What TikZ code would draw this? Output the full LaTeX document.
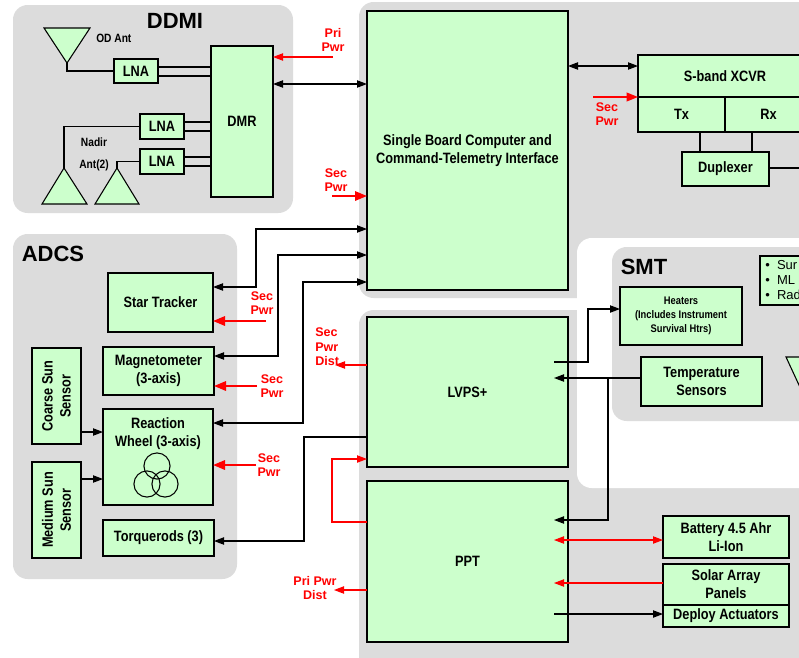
\documentclass[tikz,border=0pt]{standalone}
\usepackage{fontspec}
\setmainfont{Liberation Sans}
\newfontfamily\cond{Liberation Sans}[FakeStretch=0.85]
\usetikzlibrary{arrows.meta}
\definecolor{boxgreen}{RGB}{204,255,204}
\definecolor{panelgray}{RGB}{220,220,220}
\definecolor{pwrred}{RGB}{255,0,0}
\newcommand\bx[7][]{\node[box,minimum width={(#5-#3)*0.75pt},minimum height={(#6-#4)*0.75pt},#1] (#2) at ({(#3+#5)/2},{(#4+#6)/2}) {#7};}
\begin{document}
\begin{tikzpicture}[x=0.75pt,y=-0.75pt,
 box/.style={draw=black, fill=boxgreen, line width=1pt, inner sep=0pt, outer sep=0pt, align=center, font=\cond\bfseries\fontsize{11.25}{13.5}\selectfont},
 panel/.style={fill=panelgray, rounded corners=11pt},
 title/.style={font=\bfseries\fontsize{16.5}{20}\selectfont, inner sep=0pt},
 lbl/.style={font=\cond\bfseries\fontsize{9}{11}\selectfont, inner sep=0pt, align=center},
 txt/.style={font=\cond\bfseries\fontsize{11.25}{13.5}\selectfont, inner sep=0pt, align=center},
 rlbl/.style={text=pwrred, font=\bfseries\fontsize{9.4}{10.8}\selectfont, inner sep=0pt, align=center},
 conn/.style={line width=0.8pt},
 arr/.style={conn, -{Triangle[length=7.5pt,width=5.5pt]}},
 darr/.style={conn, {Triangle[length=7.5pt,width=5.5pt]}-{Triangle[length=7.5pt,width=5.5pt]}},
 rarr/.style={arr, pwrred},
 rdarr/.style={darr, pwrred},
 pwr/.style={pwrred, line width=1.6pt, -{Triangle[length=9pt,width=7pt]}},
 ant/.style={draw=black, fill=boxgreen, line width=0.8pt},
]
\useasboundingbox (0,0) rectangle (799,657);
\clip (0,0) rectangle (799,657);
\fill[white] (0,0) rectangle (799,657);
% panels
\fill[panel] (13,5) rectangle (293,213);
\fill[panel] (13,234) rectangle (237,579);
\fill[panel] (359,2) rectangle (840,298);
\fill[panel] (359,310) rectangle (840,700);
\fill[white, rounded corners=11pt] (577,238) rectangle (840,488);
\fill[panel] (612,247) rectangle (840,421);
% titles
\node[title] (tddmi) at (175,21) {DDMI};
\node[title] (tadcs) at (53,254) {ADCS};
\node[title] (tsmt) at (644,267) {SMT};
% DDMI
\bx{lna1}{114}{59}{158}{83}{LNA}
\bx{lna2}{140}{114}{184}{139}{LNA}
\bx{lna3}{140}{149}{184}{174}{LNA}
\bx{dmr}{211}{46}{273}{197}{DMR}
\foreach \n/\ya/\yb in {lna1/67/76, lna2/122/131, lna3/157/166}{
  \draw[conn] (\n.east |- 0,\ya) -- (dmr.west |- 0,\ya);
  \draw[conn] (\n.east |- 0,\yb) -- (dmr.west |- 0,\yb);
}
\filldraw[ant] (44,28) -- (90,28) -- (67,63) -- cycle;
\coordinate (odapex) at (67,63);
\filldraw[ant] (42,204) -- (87,204) -- (64,168) -- cycle;
\coordinate (n1apex) at (64,168);
\filldraw[ant] (95,204) -- (139,204) -- (117,168) -- cycle;
\coordinate (n2apex) at (117,168);
\draw[conn] (odapex) |- (lna1.west);
\draw[conn] (n1apex) |- (lna2.west);
\draw[conn] (n2apex) |- (lna3.west);
\node[lbl, anchor=west] (lod) at (96,38) {OD Ant};
\node[lbl] (lnadir) at (94,142) {Nadir};
\node[lbl] (lant) at (94,165) {Ant(2)};
\node[rlbl] (lpri) at (333,40) {Pri\\Pwr};
\coordinate (pri) at (333,57);
\draw[rarr] (pri) -- (dmr.east |- 0,57);
% SBC
\bx[font=\cond\bfseries\fontsize{11.25}{13}\selectfont]{sbc}{367}{11}{568}{290}{Single Board Computer and\\Command-Telemetry Interface}
\draw[darr] (dmr.east |- 0,84) -- (sbc.west |- 0,84);
\node[rlbl] (lsbcpwr) at (336,180) {Sec\\Pwr};
\coordinate (sbcpwr) at (332,196);
\draw[pwr] (sbcpwr) -- (sbc.west |- 0,196);
% XCVR
\bx{xcvr}{638}{55}{812}{97}{S-band XCVR}
\bx{tx}{638}{97}{725}{132}{Tx}
\bx{rx}{725}{97}{812}{132}{Rx}
\bx{dup}{682}{152}{769}{186}{Duplexer}
\draw[conn] (tx.south -| 700,0) -- (dup.north -| 700,0);
\draw[conn] (rx.south -| 752,0) -- (dup.north -| 752,0);
\coordinate (dupout) at (810,168);
\draw[conn] (dup.east |- 0,168) -- (dupout);
\draw[darr] (sbc.east |- 0,66) -- (xcvr.west |- 0,66);
\coordinate (xpwr) at (593,97);
\draw[pwrred, line width=1.2pt, -{Triangle[length=8.5pt,width=6.5pt]}] (xpwr) -- (tx.north west);
\node[rlbl] (lxpwr) at (607,114) {Sec\\Pwr};
% SMT
\bx[font=\cond\bfseries\fontsize{8.25}{10.5}\selectfont]{heat}{620}{287}{742}{345}{Heaters\\(Includes Instrument\\Survival Htrs)}
\bx{temp}{641}{357}{762}{406}{Temperature\\Sensors}
\bx{bul}{760}{256}{840}{305}{}
\node[anchor=west, inner sep=0pt, align=left, font=\fontsize{9.75}{10.9}\selectfont] (bultext) at (765,280) {\textbullet\ \ Sur\\\textbullet\ \ ML\\\textbullet\ \ Rad};
\filldraw[ant] (786,357) -- (825,357) -- (805,398) -- cycle;
% LVPS / PPT
\bx{lvps}{367}{317}{568}{467}{LVPS+}
\bx{ppt}{367}{481}{568}{642}{PPT}
\bx{bat}{663}{516}{789}{558}{Battery 4.5 Ahr\\Li-Ion}
\bx{sol}{663}{564}{789}{605}{Solar Array\\Panels}
\bx{dep}{663}{605}{789}{627}{Deploy Actuators}
\coordinate (lvpsH) at (554,362);
\coordinate (lvpsT) at (554,378);
\coordinate (pptT) at (554,520);
\coordinate (pptB) at (554,540);
\coordinate (pptS) at (554,583);
\coordinate (pptD) at (554,614);
\draw[arr] (lvpsH) -- (588,362) -- (588,309) -- (heat.west |- 0,309);
\draw[arr] (temp.west |- 0,378) -- (lvpsT);
\draw[arr] (608,378) |- (pptT);
\draw[rdarr] (pptB) -- (bat.west |- 0,540);
\draw[rarr] (sol.west |- 0,583) -- (pptS);
\draw[arr] (pptD) -- (dep.west |- 0,614);
\coordinate (pridist) at (334,590);
\draw[rarr] (ppt.west |- 0,590) -- (pridist);
\node[rlbl] (lpridist) at (315,588) {Pri Pwr\\Dist};
\coordinate (secdist) at (335,365);
\draw[rarr] (lvps.west |- 0,365) -- (secdist);
\node[rlbl, anchor=west, align=left] (lsecdist) at (315,347) {Sec\\Pwr\\Dist};
\draw[rarr] (ppt.west |- 0,522) -- (332,522) |- (lvps.west |- 0,459);
% ADCS
\bx{star}{108}{273}{213}{332}{Star Tracker}
\bx{mag}{103}{347}{214}{395}{Magnetometer\\(3-axis)}
\bx{rw}{103}{409}{213}{505}{}
\node[txt] (rwtext) at (158,434) {Reaction\\Wheel (3-axis)};
\draw[line width=0.8pt] (157,466) circle[radius=9.8pt];
\draw[line width=0.8pt] (147,484) circle[radius=9.8pt];
\draw[line width=0.8pt] (165,484) circle[radius=9.8pt];
\bx{torq}{103}{520}{214}{556}{Torquerods (3)}
\node[box, rotate=90, minimum width={96*0.75pt}, minimum height={49*0.75pt}] (coarse) at (56.5,396) {Coarse Sun\\Sensor};
\node[box, rotate=90, minimum width={96*0.75pt}, minimum height={49*0.75pt}] (medium) at (56.5,510) {Medium Sun\\Sensor};
\draw[arr] (coarse.south |- 0,432) -- (rw.west |- 0,432);
\draw[arr] (medium.south |- 0,479) -- (rw.west |- 0,479);
\draw[darr] (star.east |- 0,287) -- (256,287) |- (sbc.west |- 0,229);
\draw[darr] (mag.east |- 0,356) -- (278,356) |- (sbc.west |- 0,255);
\draw[darr] (rw.east |- 0,423) -- (303,423) |- (sbc.west |- 0,282);
\draw[arr] (lvps.west |- 0,437) -- (304,437) |- (torq.east |- 0,541);
\coordinate (starpwr) at (266,321);
\coordinate (magpwr) at (257,386);
\coordinate (rwpwr) at (256,465);
\draw[pwr] (starpwr) -- (star.east |- 0,321);
\draw[pwr] (magpwr) -- (mag.east |- 0,386);
\draw[pwr] (rwpwr) -- (rw.east |- 0,465);
\node[rlbl] (lstarpwr) at (262,303) {Sec\\Pwr};
\node[rlbl] (lmagpwr) at (272,386) {Sec\\Pwr};
\node[rlbl] (lrwpwr) at (269,465) {Sec\\Pwr};
\end{tikzpicture}
\end{document}
